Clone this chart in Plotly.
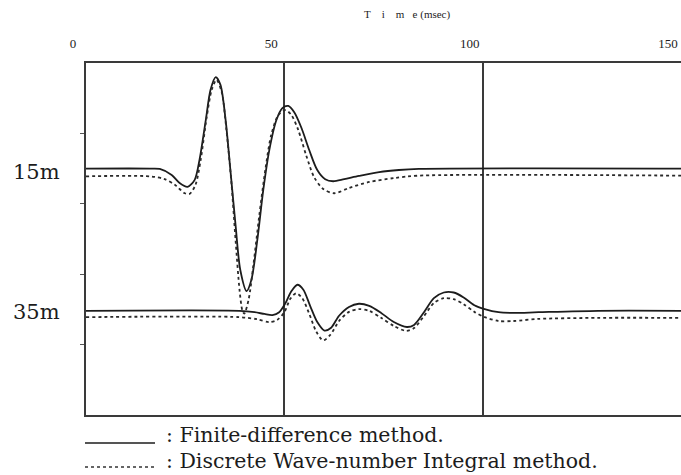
import plotly.graph_objects as go

# ---------------- data ----------------
# time axis (msec) and station depths (m)
x_tick_vals = [0, 50, 100, 150]
x_tick_text = ["0", "50", "100", "150"]
depth_ticks = [10, 20, 30, 40]
stations = [15, 35]
station_labels = ["15m", "35m"]

# 15 m receiver : finite-difference (solid)
t15_fd = [0, 16.1, 18.6, 21.6, 23.6, 25.6, 27.4, 28.6, 30.2, 31.4, 32.7, 33.9, 35.2, 36.4,
          37.7, 38.9, 40.5, 41.7, 43.2, 44.7, 46.2, 48.0, 49.5, 51.0, 52.5, 54.3, 56.3,
          58.3, 60.3, 62.3, 65.1, 68.8, 73.9, 78.9, 83.9, 150]
a15_fd = [0, 0, -0.05, -0.9, -2.05, -2.6, -1.6, 1.2, 6.9, 11.2, 13.0, 11.9, 6.9, -0.2,
          -8.0, -14.4, -17.4, -15.8, -10.1, -3.0, 2.6, 6.9, 8.6, 8.9, 8.0, 5.8, 2.6,
          -0.2, -1.5, -1.8, -1.5, -1.05, -0.5, -0.2, -0.05, 0]

# 15 m receiver : discrete wave-number integral (dotted)
t15_dw = [0, 16.1, 19.8, 22.4, 24.9, 26.1, 27.6, 28.9, 30.4, 31.7, 32.9, 34.2, 35.4, 36.7,
          37.7, 38.7, 39.4, 39.9, 41.0, 42.2, 43.7, 45.2, 46.7, 48.5, 50.3, 51.8, 53.5,
          55.5, 57.5, 59.8, 62.6, 66.3, 71.4, 77.6, 83.9, 150]
a15_dw = [-1.1, -1.1, -1.5, -2.3, -3.5, -3.6, -2.3, 1.2, 7.2, 11.2, 12.6, 10.9, 5.5, -2.3,
          -10.1, -17.2, -20.1, -20.6, -18.6, -13.7, -6.6, -0.2, 4.8, 7.6, 8.3, 7.6, 5.5,
          1.9, -1.2, -2.9, -3.5, -2.75, -1.9, -1.35, -1.0, -1.0]

# 35 m receiver : finite-difference (solid)
t35_fd = [0, 38.7, 42.5, 45.0, 47.0, 48.7, 50.3, 51.8, 53.3, 54.8, 56.5, 58.3, 60.1, 61.8,
          63.8, 66.3, 68.8, 71.4, 74.4, 77.6, 80.9, 82.7, 85.2, 87.7, 90.2, 92.7, 95.2,
          97.9, 100.5, 104.0, 107.8, 114.1, 129.1, 150]
a35_fd = [-0.2, -0.2, -0.4, -0.65, -0.8, -0.4, 0.9, 2.6, 3.5, 2.8, 0.5, -1.8, -3.0, -2.6,
          -0.9, 0.35, 0.8, 0.5, -0.5, -1.8, -2.5, -2.2, -0.4, 1.6, 2.4, 2.4, 1.7,
          0.6, 0.05, -0.4, -0.5, -0.4, -0.2, -0.2]

# 35 m receiver : discrete wave-number integral (dotted)
t35_dw = [0, 38.7, 43.2, 46.2, 48.2, 50.0, 51.5, 53.0, 54.5, 56.3, 58.0, 59.8, 61.6, 63.8,
          66.3, 68.8, 71.4, 74.4, 77.6, 80.7, 82.7, 85.2, 87.7, 90.2, 92.7, 95.2, 97.9,
          100.5, 104.0, 107.8, 114.1, 129.1, 150]
a35_dw = [-1.1, -1.1, -1.4, -1.8, -1.5, -0.4, 1.5, 2.3, 1.6, -0.65, -3.1, -4.4, -3.6, -1.65,
          -0.35, 0.05, -0.2, -1.2, -2.35, -3.05, -2.65, -0.95, 0.9, 1.6, 1.45, 0.75, -0.35,
          -1.1, -1.65, -1.65, -1.35, -1.2, -1.2]

legend_texts = [": Finite-difference method.", ": Discrete Wave-number Integral method."]

# ---------------- figure ----------------
W, H = 681, 475
ML, MR, MT, MB = 86, 0, 63, 60
PW, PH = W - ML - MR, H - MT - MB
INK = "#1c1c1c"
SERIF = "Liberation Serif, Times New Roman, serif"
WIDE_SERIF = "DejaVu Serif, serif"


def px_x(p):
    return (p - ML) / PW


def px_y(p):
    return (MT + PH - p) / PH


fig = go.Figure()

series = [
    (t15_fd, a15_fd, stations[0], "solid"),
    (t15_dw, a15_dw, stations[0], "dot"),
    (t35_fd, a35_fd, stations[1], "solid"),
    (t35_dw, a35_dw, stations[1], "dot"),
]
for t, a, depth, dash in series:
    fig.add_trace(go.Scatter(
        x=t, y=[depth - v for v in a], mode="lines",
        line=dict(color=INK if dash == "solid" else "#2a2a2a", width=1.8,
                  dash=dash, shape="spline", smoothing=0.8),
        showlegend=False, hoverinfo="skip"))

fig.update_xaxes(
    range=[0, 150], side="top", tickmode="array",
    tickvals=x_tick_vals, ticktext=x_tick_text,
    ticks="", ticklabelshift=-13, ticklabelstandoff=8,
    tickfont=dict(family=SERIF, size=13, color=INK),
    showgrid=True, gridcolor="#3a3a3a", gridwidth=1.5,
    zeroline=False, showline=True, mirror=True,
    linecolor="#3a3a3a", linewidth=1.5)

fig.update_yaxes(
    range=[50, 0], tickmode="array", tickvals=depth_ticks,
    ticks="outside", ticklen=4, tickwidth=1, tickcolor="#555",
    showticklabels=False, showgrid=False, zeroline=False,
    showline=True, linecolor="#3a3a3a", linewidth=1.5)

# station labels
for d, lab in zip(stations, station_labels):
    fig.add_annotation(x=px_x(62), xref="paper", y=d, yref="y", text=lab,
                       showarrow=False, xanchor="right", yanchor="middle", yshift=-3,
                       font=dict(family=WIDE_SERIF, size=21, color=INK))

# axis title
fig.add_annotation(
    x=px_x(407), xref="paper", y=px_y(15), yref="paper",
    text="T\u00a0\u00a0\u00a0\u00a0i\u00a0\u00a0\u00a0\u00a0m\u00a0\u00a0\u00a0e\u00a0(msec)",
    showarrow=False, xanchor="center", yanchor="middle",
    font=dict(family=SERIF, size=11, color=INK))

# legend (drawn below the plot)
fig.add_shape(type="line", xref="paper", yref="paper",
              x0=px_x(85), x1=px_x(155), y0=px_y(443), y1=px_y(443),
              line=dict(color=INK, width=1.5))
fig.add_shape(type="line", xref="paper", yref="paper",
              x0=px_x(85), x1=px_x(155), y0=px_y(467), y1=px_y(467),
              line=dict(color="#333", width=1.5, dash="dot"))
for txt, yc in zip(legend_texts, [435, 461]):
    fig.add_annotation(x=px_x(164), xref="paper", y=px_y(yc), yref="paper",
                       text=txt, showarrow=False, xanchor="left", yanchor="middle",
                       font=dict(family=WIDE_SERIF, size=20.5, color=INK))

fig.update_layout(
    width=W, height=H, margin=dict(l=ML, r=MR, t=MT, b=MB),
    paper_bgcolor="white", plot_bgcolor="white", showlegend=False)

fig.write_html("out.html", config={"displayModeBar": False},
               post_script="document.body.style.margin='0';document.body.style.padding='0';")
